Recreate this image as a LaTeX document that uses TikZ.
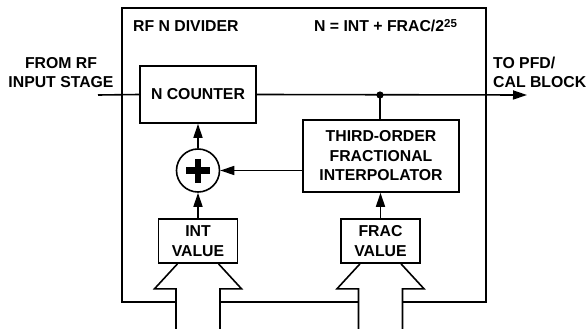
\documentclass[tikz,border=0pt]{standalone}
\usepackage{fontspec}
\setmainfont{Liberation Sans}
\usetikzlibrary{arrows.meta,calc}
\begin{document}
\begin{tikzpicture}[x=1pt,y=-1pt,
  font=\fontsize{15.8}{19.5}\selectfont\bfseries,
  blk/.style={draw, line width=1.6pt, align=center, inner sep=0pt},
  arr/.style={line width=1.6pt, -{Triangle[length=14pt,width=9pt]}},
  ln/.style={line width=1.6pt},
  lbl/.style={inner sep=0pt}]
\useasboundingbox (0,0) rectangle (587,329);
% outer frame
\draw[line width=2.4pt, line join=miter] (176,302) -- (122,302) -- (122,8) -- (486,8) -- (486,302) -- (402.5,302);
\draw[line width=2.4pt] (220,302) -- (358.5,302);
% labels
\node[lbl, anchor=west] (title) at (133,26) {RF N DIVIDER};
\node[lbl, anchor=west] (eq) at (314,26) {N = INT + FRAC/2\raisebox{4pt}{\fontsize{11.5}{12}\selectfont 25}};
\node[lbl, align=center] (from) at (61,72.5) {FROM RF\\INPUT STAGE};
\node[lbl, align=left, anchor=west] (to) at (493,72.5) {TO PFD/\\CAL BLOCK};
% blocks
\node[blk, minimum width=116pt, minimum height=57pt] (cnt) at (198,94.5) {N COUNTER};
\node[blk, minimum width=156pt, minimum height=72pt] (interp) at (381,156) {THIRD-ORDER\\FRACTIONAL\\INTERPOLATOR};
\node[blk, minimum width=79pt, minimum height=44pt] (intv) at (198,241) {INT\\VALUE};
\node[blk, minimum width=79pt, minimum height=44pt] (fracv) at (380.5,241) {FRAC\\VALUE};
\node[draw, circle, line width=1.6pt, minimum size=43pt, inner sep=0pt] (sum) at (198,170.5) {};
\draw[line width=6.5pt] ($(sum.center)+(-12,0)$) -- ($(sum.center)+(12,0)$);
\draw[line width=6.5pt] ($(sum.center)+(0,-12)$) -- ($(sum.center)+(0,12)$);
% signal path
\coordinate (in) at (98,95);
\coordinate (out) at (527,95);
\coordinate (dot) at (380,95);
\draw[ln] (in) -- (cnt.west);
\draw[arr] (cnt.east) -- (out);
\fill (dot) circle (3.6);
\draw[ln] (dot) -- (dot |- interp.north);
\draw[arr] (sum.north) -- (cnt.south);
\draw[arr] (intv.north) -- (sum.south);
\draw[arr] (fracv.north) -- (fracv.north |- interp.south);
\draw[arr] (interp.west |- sum.east) -- (sum.east);
% bus arrows
\foreach \b in {intv, fracv} {
  \draw[ln, line join=miter] ($(\b.south)+(-20.5,0)$) -- ++(-23,25) -- ++(21.5,0) -- ++(0,45);
  \draw[ln, line join=miter] ($(\b.south)+(20.5,0)$) -- ++(23,25) -- ++(-21.5,0) -- ++(0,45);
}
\end{tikzpicture}
\end{document}
